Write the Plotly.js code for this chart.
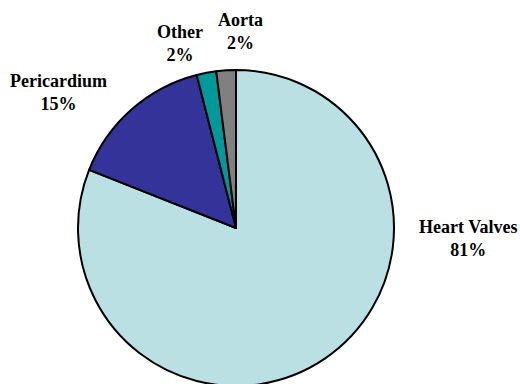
<!DOCTYPE html>
<html>
<head>
<meta charset="utf-8">
<script src="https://cdn.plot.ly/plotly-3.0.1.min.js"></script>
<style>
  html, body { margin: 0; padding: 0; overflow: hidden; background: #fff; }
  #chart { width: 520px; height: 400px; }
</style>
</head>
<body>
<div id="chart"></div>
<script>
// Share of tissue sources by category
const categories = ["Heart Valves", "Pericardium", "Other", "Aorta"];
const shares = [81, 15, 2, 2];
const sliceColors = ["#BBE0E3", "#333399", "#009999", "#808080"];

// Label anchor positions in paper coordinates (one per category)
const labelX = [0.900, 0.113, 0.346, 0.462];
const labelY = [0.405, 0.770, 0.890, 0.922];

const total = shares.reduce((a, b) => a + b, 0);
const labelFont = { family: "Liberation Serif, Times New Roman, serif", size: 18, weight: "bold", color: "#000" };

const annotations = categories.map((c, i) => ({
  x: labelX[i], y: labelY[i], xref: "paper", yref: "paper",
  text: c + "<br>" + Math.round(shares[i] / total * 100) + "%",
  showarrow: false, font: labelFont, align: "center",
  xanchor: "center", yanchor: "middle"
}));

const trace = {
  type: "pie",
  labels: categories,
  values: shares,
  sort: false,
  direction: "clockwise",
  rotation: 0,
  textinfo: "none",
  hoverinfo: "label+percent",
  marker: { colors: sliceColors, line: { color: "#000", width: 2 } },
  domain: { x: [0.15, 0.7577], y: [0.035, 0.825] }
};

Plotly.newPlot("chart", [trace], {
  width: 520, height: 400,
  margin: { l: 0, r: 0, t: 0, b: 0 },
  showlegend: false,
  paper_bgcolor: "#fff",
  annotations: annotations
}, { displayModeBar: false, staticPlot: true });
</script>
</body>
</html>
